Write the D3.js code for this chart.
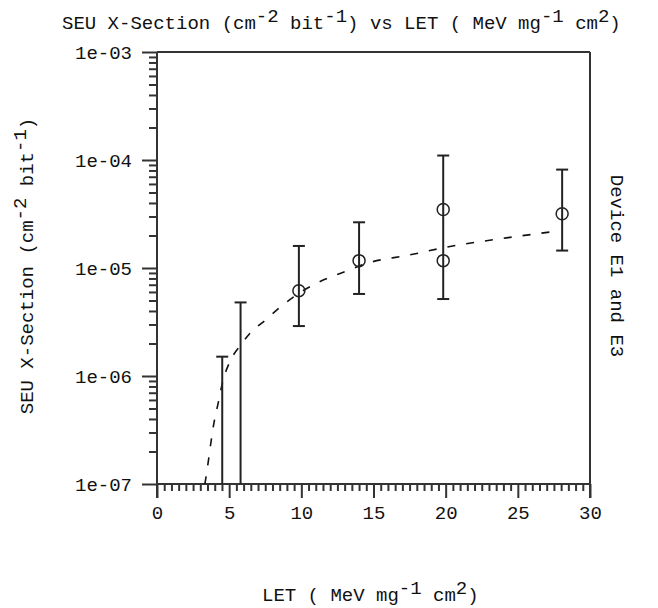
<!DOCTYPE html>
<html>
<head>
<meta charset="utf-8">
<script src="https://cdn.jsdelivr.net/npm/d3@7"></script>
<style>
  body { margin: 0; background: #fff; }
  text { font-family: "Liberation Mono", monospace; font-size: 19px; fill: #111; }
</style>
</head>
<body>
<svg width="658" height="608"></svg>
<script>
  // tick values
  var xMajor = [0, 5, 10, 15, 20, 25, 30]
  var yMajor = [1e-7, 1e-6, 1e-5, 1e-4, 1e-3]

  // error bars (LET, low, high)
  var barLET = [4.52, 5.79, 9.83, 14.0, 19.83, 28.07]
  var barLo = [5e-8, 5e-8, 2.9e-6, 5.75e-6, 5.16e-6, 1.45e-5]
  var barHi = [1.51e-6, 4.8e-6, 1.6e-5, 2.65e-5, 1.1e-4, 8.15e-5]

  // measured points
  var ptLET = [9.83, 14.0, 19.83, 19.83, 28.07]
  var ptVal = [6.17e-6, 1.17e-5, 3.48e-5, 1.17e-5, 3.18e-5]

  // fitted curve (dashed)
  var fitLET = [3.32, 3.55, 3.75, 3.95, 4.25, 4.52, 5.1, 5.79, 6.4, 7.6, 8.5, 9.8, 10.94, 13.25, 14.4, 17.5, 20.06, 24.2, 27.8]
  var fitVal = [1.0e-7, 1.6e-7, 2.5e-7, 3.7e-7, 5.7e-7, 8.5e-7, 1.4e-6, 1.93e-6, 2.45e-6, 3.37e-6, 4.3e-6, 5.8e-6, 7.1e-6, 9.5e-6, 1.09e-5, 1.32e-5, 1.56e-5, 1.9e-5, 2.2e-5]

  var svg = d3.select('svg')
  var mLeft = 157, mRight = 590, mTop = 52, mBottom = 484

  var x = d3.scaleLinear().domain([0, 30]).range([mLeft, mRight])
  var y = d3.scaleLog().domain([1e-7, 1e-3]).range([mBottom, mTop])

  var xMinor = d3.range(0.5, 30, 0.5).filter(function (d) { return d % 5 !== 0 })
  var yMinor = []
  yMajor.slice(0, -1).forEach(function (p) {
    d3.range(2, 10).forEach(function (k) { yMinor.push(k * p) })
  })

  function styleAxis(g) {
    g.select('.domain').remove()
    g.selectAll('line').attr('stroke', '#333').attr('stroke-width', 2)
    g.selectAll('text').attr('fill', '#111').style('font-family', '"Liberation Mono", monospace').style('font-size', '19px')
  }

  svg.append('g')
    .attr('transform', 'translate(0,' + mBottom + ')')
    .call(d3.axisBottom(x).tickValues(xMinor).tickSize(7).tickFormat(''))
    .call(styleAxis)

  svg.append('g')
    .attr('transform', 'translate(0,' + mBottom + ')')
    .call(d3.axisBottom(x).tickValues(xMajor).tickSize(14).tickPadding(8).tickFormat(d3.format('d')))
    .call(styleAxis)

  svg.append('g')
    .attr('transform', 'translate(' + mLeft + ',0)')
    .call(d3.axisLeft(y).tickValues(yMinor).tickSize(8).tickFormat(''))
    .call(styleAxis)

  svg.append('g')
    .attr('transform', 'translate(' + mLeft + ',0)')
    .call(d3.axisLeft(y).tickValues(yMajor).tickSize(15).tickPadding(10).tickFormat(function (d) {
      var e = Math.round(Math.log10(d))
      return '1e-0' + (-e)
    }))
    .call(styleAxis)

  // frame
  var frame = svg.append('g').attr('stroke', '#333').attr('stroke-width', 2)
  frame.append('line').attr('x1', mLeft).attr('x2', mLeft).attr('y1', mTop).attr('y2', mBottom + 14)
  frame.append('line').attr('x1', mRight).attr('x2', mRight).attr('y1', mTop).attr('y2', mBottom + 14)
  frame.append('line').attr('x1', mLeft).attr('x2', mRight).attr('y1', mTop).attr('y2', mTop)
  frame.append('line').attr('x1', mLeft).attr('x2', mRight).attr('y1', mBottom).attr('y2', mBottom)

  svg.append('clipPath').attr('id', 'plot')
    .append('rect').attr('x', mLeft).attr('y', mTop).attr('width', mRight - mLeft).attr('height', mBottom - mTop)

  var plot = svg.append('g').attr('clip-path', 'url(#plot)')

  var fit = fitLET.map(function (d, i) { return [d, fitVal[i]] })
  plot.append('path')
    .datum(fit)
    .attr('fill', 'none')
    .attr('stroke', '#111')
    .attr('stroke-width', 1.6)
    .attr('stroke-dasharray', '8,11')
    .attr('d', d3.line()
      .x(function (d) { return x(d[0]) })
      .y(function (d) { return y(d[1]) })
      .curve(d3.curveMonotoneX))

  var bars = plot.append('g').attr('stroke', '#222').attr('stroke-width', 2)
    .selectAll('g')
    .data(barLET)
    .enter().append('g')
  bars.append('line')
    .attr('x1', function (d) { return x(d) })
    .attr('x2', function (d) { return x(d) })
    .attr('y1', function (d, i) { return y(barLo[i]) })
    .attr('y2', function (d, i) { return y(barHi[i]) })
  bars.append('line')
    .attr('x1', function (d) { return x(d) - 6 })
    .attr('x2', function (d) { return x(d) + 6 })
    .attr('y1', function (d, i) { return y(barHi[i]) })
    .attr('y2', function (d, i) { return y(barHi[i]) })
  bars.append('line')
    .attr('x1', function (d) { return x(d) - 6 })
    .attr('x2', function (d) { return x(d) + 6 })
    .attr('y1', function (d, i) { return y(barLo[i]) })
    .attr('y2', function (d, i) { return y(barLo[i]) })

  plot.append('g')
    .selectAll('circle')
    .data(ptLET)
    .enter().append('circle')
    .attr('cx', function (d) { return x(d) })
    .attr('cy', function (d, i) { return y(ptVal[i]) })
    .attr('r', 6)
    .attr('fill', 'none')
    .attr('stroke', '#222')
    .attr('stroke-width', 1.5)

  // titles with superscripts: each part is [text, isSuper]
  function richText(sel, parts) {
    var raised = false
    parts.forEach(function (p) {
      var up = !!p[1]
      var dy = 0
      if (up && !raised) dy = -7
      if (!up && raised) dy = 7
      raised = up
      sel.append('tspan').attr('dy', dy).text(p[0])
    })
  }

  var title = svg.append('text').attr('x', 62).attr('y', 29)
  richText(title, [['SEU X-Section (cm'], ['-2', 1], [' bit'], ['-1', 1], [') vs LET ( MeV mg'], ['-1', 1], [' cm'], ['2', 1], [')']])

  var xlab = svg.append('text').attr('x', 262).attr('y', 601)
  richText(xlab, [['LET ( MeV mg'], ['-1', 1], [' cm'], ['2', 1], [')']])

  var ylab = svg.append('text').attr('text-anchor', 'middle')
    .attr('transform', 'translate(33,266) rotate(-90)')
  richText(ylab, [['SEU X-Section (cm'], ['-2', 1], [' bit'], ['-1', 1], [')']])

  svg.append('text').attr('text-anchor', 'middle')
    .attr('transform', 'translate(611,266) rotate(90)')
    .text('Device E1 and E3')
</script>
</body>
</html>
